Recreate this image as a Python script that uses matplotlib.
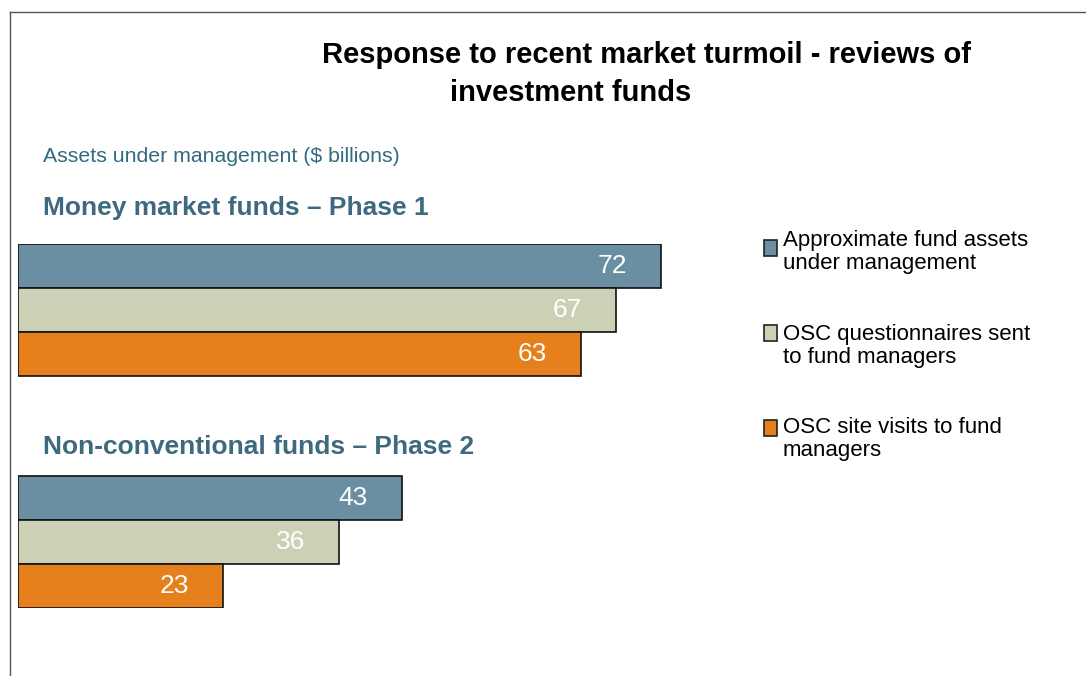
import matplotlib
matplotlib.use("Agg")
import matplotlib.pyplot as plt
from matplotlib.patches import Rectangle
from matplotlib.lines import Line2D

plt.rcParams['font.family'] = ['Liberation Sans', 'DejaVu Sans']

# assets under management, $ billions
series = ["Approximate fund assets\nunder management",
          "OSC questionnaires sent\nto fund managers",
          "OSC site visits to fund\nmanagers"]
phase1 = [72, 67, 63]
phase2 = [43, 36, 23]
colors = ['#6A8FA3', '#CCD0B4', '#E5801D']

W, H = 1086, 676
fig = plt.figure(figsize=(W / 100, H / 100), dpi=100)

def fx(px):
    return px / W

def fy(py):
    return 1 - py / H

# slide frame (top and left edges)
fig.add_artist(Line2D([fx(10), 1], [fy(12), fy(12)], color='#555555', lw=1.0))
fig.add_artist(Line2D([fx(10), fx(10)], [fy(12), 0], color='#555555', lw=1.0))

fig.text(fx(646), fy(55), "Response to recent market turmoil - reviews of",
         ha='center', va='center', fontsize=21, fontweight='bold')
fig.text(fx(571), fy(93), "investment funds",
         ha='center', va='center', fontsize=21, fontweight='bold')

fig.text(fx(43), fy(157), "Assets under management ($ billions)",
         ha='left', va='center', fontsize=15.3, color='#336A80')
fig.text(fx(43), fy(208), "Money market funds \u2013 Phase 1",
         ha='left', va='center', fontsize=19, fontweight='bold', color='#3E6A80')
fig.text(fx(43), fy(447), "Non-conventional funds \u2013 Phase 2",
         ha='left', va='center', fontsize=19, fontweight='bold', color='#3E6A80')

ax = fig.add_axes([fx(18), fy(608), 714.4 / W, 364 / H])
ax.set_xlim(0, 80)
ax.set_ylim(7.77, -0.5)
ax.axis('off')

pos1 = [0, 1, 2]
pos2 = [5.27, 6.27, 7.27]
for vals, pos in [(phase1, pos1), (phase2, pos2)]:
    for v, y, c in zip(vals, pos, colors):
        ax.barh(y, v, height=1.0, color=c, edgecolor='#111111', linewidth=1.2)
        ax.annotate(str(v), xy=(v, y), xytext=(-35, 0), textcoords='offset points',
                    ha='center', va='center', color='white', fontsize=19)

# legend drawn by hand so the swatch sits on the first line
box_top = [240, 325, 420]
text_top = [230, 324, 417]
for lab, c, bt, tt in zip(series, colors, box_top, text_top):
    fig.add_artist(Rectangle((fx(764), fy(bt + 16)), 13 / W, 16 / H,
                             facecolor=c, edgecolor='#222222', linewidth=1.2))
    fig.text(fx(783), fy(tt), lab, ha='left', va='top', fontsize=16,
             linespacing=1.12)

fig.savefig("out.png", dpi=100)
